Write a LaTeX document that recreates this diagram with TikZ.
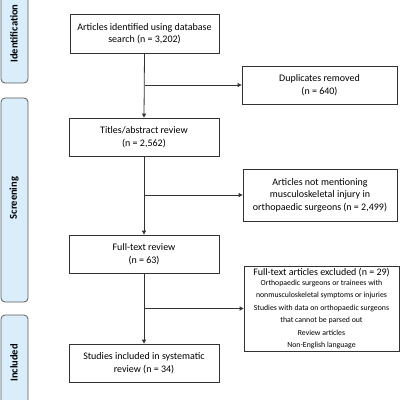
\documentclass[tikz,border=0pt]{standalone}
\usepackage{fontspec}
\setmainfont{Carlito}
\usetikzlibrary{arrows.meta}
\definecolor{sidefill}{HTML}{D9EDFB}
\definecolor{linec}{HTML}{333333}
\tikzset{
  flowbox/.style={draw=linec, line width=0.8pt, fill=white, align=center, inner sep=2pt,
    font=\fontsize{10}{12.5}\selectfont},
  sidebox/.style={draw=linec!80, line width=0.8pt, fill=sidefill, rounded corners=4pt},
  sidelabel/.style={rotate=90, font=\fontsize{10.5}{12}\selectfont\bfseries},
  conn/.style={draw=linec, line width=0.8pt},
  arr/.style={conn, -{Triangle[length=4pt,width=4pt]}}
}
\begin{document}
\begin{tikzpicture}[x=1pt,y=-1pt]
\useasboundingbox (0,0) rectangle (400,400);
\begin{scope}
\clip (0,0) rectangle (400,400);
\draw[sidebox] (1,-20) rectangle (28,83);
\node[sidelabel] (lid) at (14,33.5) {Identification};
\draw[sidebox] (1,98) rectangle (28,302);
\node[sidelabel] (lsc) at (14,198) {Screening};
\draw[sidebox] (1,315) rectangle (28,411);
\node[sidelabel] (lin) at (14,363) {Included};
\end{scope}

\node[flowbox, minimum width=149pt, minimum height=39pt] (b1) at (144.5,33.5)
  {Articles identified using database\\search (n = 3,202)};
\node[flowbox, minimum width=155pt, minimum height=38pt] (dup) at (319.5,85)
  {Duplicates removed\\(n = 640)};
\node[flowbox, minimum width=150pt, minimum height=38pt] (b2) at (144,137)
  {Titles/abstract review\\(n = 2,562)};
\node[flowbox, minimum width=154pt, minimum height=52pt] (nm) at (320,195)
  {Articles not mentioning\\musculoskeletal injury in\\orthopaedic surgeons (n = 2,499)};
\node[flowbox, minimum width=150pt, minimum height=38pt] (b3) at (144,254)
  {Full-text review\\(n = 63)};
\node[flowbox, minimum width=155pt, minimum height=81pt] (ex) at (321.5,308.5)
  {Full-text articles excluded (n = 29)\\[-2.5pt]
   \fontsize{7.8}{9.7}\selectfont Orthopaedic surgeons or trainees with\\
   \fontsize{7.8}{9.7}\selectfont nonmusculoskeletal symptoms or injuries\\
   \fontsize{7.8}{9.7}\selectfont Studies with data on orthopaedic surgeons\\
   \fontsize{7.8}{9.7}\selectfont that cannot be parsed out\\
   \fontsize{7.8}{9.7}\selectfont Review articles\\
   \fontsize{7.8}{9.7}\selectfont Non-English language};
\node[flowbox, minimum width=150pt, minimum height=38pt] (b4) at (144,363)
  {Studies included in systematic\\review (n = 34)};

\coordinate (j1) at (b1.south |- dup.west);
\coordinate (j2) at (b2.south |- nm.west);
\coordinate (j3) at (b3.south |- ex.west);
\draw[arr] (b1.south) -- (b2.north);
\draw[arr] (j1) -- (dup.west);
\draw[arr] (b2.south) -- (b3.north);
\draw[arr] (j2) -- (nm.west);
\draw[arr] (b3.south) -- (b4.north);
\draw[arr] (j3) -- (ex.west);
\end{tikzpicture}
\end{document}
